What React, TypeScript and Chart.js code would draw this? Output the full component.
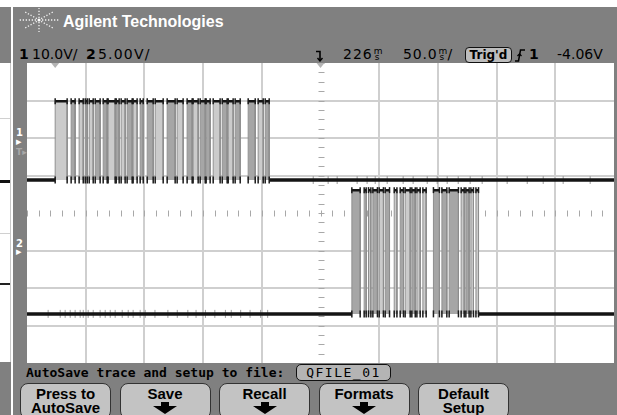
import React, { useEffect, useRef } from "react";
import { Chart, registerables } from "chart.js";
Chart.register(...registerables);

// ---- time base (ms) ----
const timePerDiv = 50;
const delayMs = 226;
const xMin = delayMs - 5 * timePerDiv;
const xMax = delayMs + 5 * timePerDiv;
const xGridTimes = [-24, 26, 76, 126, 176, 226, 276, 326, 376, 426, 476];

// ---- signal levels (screen divisions from centre) ----
const ch1Low = 0.88;
const ch1High = 2.98;
const ch2Low = -2.69;
const ch2High = 0.61;

// ---- channel 1 burst (ms) ----
const ch1Start = [0, 13.6, 20.4, 25.6, 29.0, 34.1, 40.9, 45.1, 52.0, 56.2, 61.3, 66.4, 72.4, 78.4, 85.2, 95.4, 103.9, 112.4, 117.5, 123.5, 128.6, 134.6, 142.3, 147.4, 153.3, 164.4, 172.9, 178.9];
const ch1End = [10.2, 17.0, 23.9, 27.3, 32.4, 38.3, 44.3, 51.1, 54.5, 59.6, 65.6, 69.8, 75.0, 83.5, 92.0, 102.2, 109.0, 116.7, 121.8, 127.8, 132.0, 140.5, 146.5, 151.6, 157.6, 170.4, 177.2, 182.3];
const ch1Shade = ["l", "m", "l", "m", "l", "m", "m", "l", "m", "l", "m", "l", "m", "m", "l", "m", "l", "m", "l", "m", "m", "l", "m", "l", "m", "m", "l", "m"];

// ---- channel 2 burst (ms) ----
const ch2Start = [252.7, 263.2, 266.9, 270.6, 276.0, 281.1, 288.8, 293.9, 298.1, 303.8, 308.1, 313.2, 322.2, 329.4, 335.6, 345.8, 349.8, 354.1, 358.4];
const ch2End = [259.8, 264.9, 268.9, 274.5, 279.6, 284.8, 291.1, 296.7, 302.4, 306.7, 310.9, 316.0, 327.3, 333.6, 343.5, 348.4, 352.6, 356.3, 360.6];
const ch2Shade = ["m", "l", "l", "m", "l", "m", "l", "m", "l", "m", "l", "l", "m", "m", "m", "l", "m", "l", "l"];

// ---- crosstalk specks (ms) ----
const ch1Glitch = [219.8, 232.5, 240.2, 257.2, 265.7, 272.6, 282.8, 296.4, 304.9, 316.9, 325.4, 333.9, 343.3, 353.5, 363.7, 385.0, 402.1, 415.7, 432.7, 455.7];
const ch2Glitch = [-6.0, 4.3, 8.5, 12.8, 17.0, 21.3, 23.9, 28.1, 32.4, 38.3, 42.6, 46.9, 51.1, 57.1, 62.2, 66.4, 72.4, 76.7, 85.0, 96.0, 104.0, 113.0, 120.0, 128.0, 136.0, 145.0, 150.0, 158.0, 166.0, 175.0, 181.0];

// ---- header / softkey texts ----
const ch1Scale = "10.0V/";
const ch2Scale = "5.00V/";
const delayText = "226";
const timeText = "50.0";
const trigLevel = "-4.06V";
const fileName = "QFILE_01";
const softkeys = [
  { lines: ["Press to", "AutoSave"], arrow: false },
  { lines: ["Save"], arrow: true },
  { lines: ["Recall"], arrow: true },
  { lines: ["Formats"], arrow: true },
  { lines: ["Default", "Setup"], arrow: false },
];

const GRAY = "#808080";

function bandPoints(starts: number[], ends: number[], shades: string[], want: string, low: number, high: number) {
  const pts: { x: number; y: number }[] = [];
  starts.forEach((s, i) => {
    if ((shades[i] || "m") !== want) return;
    const e = ends[i];
    pts.push({ x: s, y: low }, { x: s, y: high }, { x: e, y: high }, { x: e, y: low });
  });
  return pts;
}
function topPoints(starts: number[], ends: number[], high: number) {
  const pts: { x: number; y: number }[] = [];
  starts.forEach((s, i) => {
    pts.push({ x: s, y: high }, { x: ends[i], y: high }, { x: ends[i], y: NaN });
  });
  return pts;
}
function edgePoints(starts: number[], ends: number[], level: number) {
  const pts: { x: number; y: number }[] = [];
  starts.forEach((s, i) => pts.push({ x: s, y: level }, { x: ends[i], y: level }));
  return pts;
}
function baseline(starts: number[], ends: number[], low: number) {
  return [
    { x: xMin, y: low },
    { x: starts[0], y: low },
    { x: starts[0], y: NaN },
    { x: ends[ends.length - 1], y: low },
    { x: xMax, y: low },
  ];
}

const vertEdge = (ctx: any) => (ctx.p0.parsed.x === ctx.p1.parsed.x ? "#8e8e8e" : "rgba(0,0,0,0)");

function bandDataset(data: any[], color: string, low: number) {
  return {
    data,
    backgroundColor: color,
    borderWidth: 1,
    borderColor: "rgba(0,0,0,0)",
    segment: { borderColor: vertEdge },
    fill: { value: low },
    pointRadius: 0,
    order: 6,
  };
}
function tickDataset(data: any[], color: string, radius: number, width: number, order: number) {
  return {
    data,
    showLine: false,
    pointStyle: "line",
    rotation: 90,
    pointRadius: radius,
    borderColor: color,
    backgroundColor: color,
    pointBorderWidth: width,
    borderWidth: width,
    order,
  };
}
function lineDataset(data: any[], color: string, width: number, order: number) {
  return { data, borderColor: color, borderWidth: width, pointRadius: 0, fill: false, spanGaps: false, order };
}

const graticulePlugin = {
  id: "graticule",
  beforeDatasetsDraw(chart: any) {
    const { ctx, scales } = chart;
    const xs = scales.x;
    const ys = scales.y;
    ctx.save();
    ctx.strokeStyle = "#a8a8a8";
    ctx.lineWidth = 1;
    const yc = Math.round(ys.getPixelForValue(0)) + 0.5;
    const xc = Math.round(xs.getPixelForValue(delayMs)) + 0.5;
    ctx.beginPath();
    for (let k = 0; k <= 50; k++) {
      const xp = Math.round(xs.getPixelForValue(xMin + (k * timePerDiv) / 5)) + 0.5;
      ctx.moveTo(xp, yc - 3);
      ctx.lineTo(xp, yc + 3);
    }
    for (let k = 0; k <= 32; k++) {
      const yp = Math.round(ys.getPixelForValue(-4 + k / 4)) + 0.5;
      ctx.moveTo(xc - 3, yp);
      ctx.lineTo(xc + 3, yp);
    }
    ctx.stroke();
    // trigger / delay markers at the top edge
    const top = chart.chartArea.top;
    ctx.fillStyle = "#b4b4b4";
    [0, delayMs].forEach((t) => {
      const xp = xs.getPixelForValue(t);
      ctx.beginPath();
      ctx.moveTo(xp - 4, top);
      ctx.lineTo(xp + 4, top);
      ctx.lineTo(xp, top + 5);
      ctx.closePath();
      ctx.fill();
    });
    ctx.restore();
  },
};

function Arrow() {
  return (
    <svg width="24" height="12" viewBox="0 0 24 12" style={{ display: "block", margin: "1px auto 0" }}>
      <polygon points="8,0 16,0 16,4 24,4 12,12 0,4 8,4" fill="#000" />
    </svg>
  );
}

function StackedUnit() {
  return (
    <span style={{ display: "inline-block", position: "relative", width: 9, height: 14, verticalAlign: "-2px", marginLeft: 1, letterSpacing: 0 }}>
      <span style={{ position: "absolute", left: 0, top: 0, fontSize: 9, lineHeight: "8px" }}>m</span>
      <span style={{ position: "absolute", left: 1, top: 6, fontSize: 9, lineHeight: "8px" }}>s</span>
    </span>
  );
}

export default function App() {
  const ref = useRef<HTMLCanvasElement>(null);
  useEffect(() => {
    const chart = new Chart(ref.current as HTMLCanvasElement, {
      type: "line",
      data: {
        datasets: [
          bandDataset(bandPoints(ch1Start, ch1End, ch1Shade, "l", ch1Low, ch1High), "#cbcbcb", ch1Low),
          bandDataset(bandPoints(ch1Start, ch1End, ch1Shade, "m", ch1Low, ch1High), "#a6a6a6", ch1Low),
          bandDataset(bandPoints(ch2Start, ch2End, ch2Shade, "l", ch2Low, ch2High), "#cbcbcb", ch2Low),
          bandDataset(bandPoints(ch2Start, ch2End, ch2Shade, "m", ch2Low, ch2High), "#a6a6a6", ch2Low),
          tickDataset(ch1Glitch.map((x) => ({ x, y: ch1Low })), "#9c9c9c", 4, 1, 5),
          tickDataset(ch2Glitch.map((x) => ({ x, y: ch2Low })), "#9c9c9c", 4, 1, 5),
          lineDataset(baseline(ch1Start, ch1End, ch1Low), "#141414", 3.5, 3),
          lineDataset(baseline(ch2Start, ch2End, ch2Low), "#141414", 3.5, 3),
          lineDataset(topPoints(ch1Start, ch1End, ch1High), "#141414", 2.5, 2),
          lineDataset(topPoints(ch2Start, ch2End, ch2High), "#141414", 2.5, 2),
          tickDataset(edgePoints(ch1Start, ch1End, ch1High), "#1a1a1a", 3, 1.5, 1),
          tickDataset(edgePoints(ch1Start, ch1End, ch1Low), "#1a1a1a", 3.5, 1.5, 1),
          tickDataset(edgePoints(ch2Start, ch2End, ch2High), "#1a1a1a", 3, 1.5, 1),
          tickDataset(edgePoints(ch2Start, ch2End, ch2Low), "#1a1a1a", 3.5, 1.5, 1),
        ] as any,
      },
      options: {
        animation: false,
        responsive: false,
        events: [],
        layout: { padding: 0, autoPadding: false },
        plugins: { legend: { display: false }, tooltip: { enabled: false } },
        scales: {
          x: {
            type: "linear",
            min: xMin,
            max: xMax,
            afterBuildTicks: (s: any) => {
              s.ticks = xGridTimes.map((v) => ({ value: v }));
            },
            ticks: { display: false },
            border: { display: false },
            grid: {
              drawTicks: false,
              lineWidth: 2,
              color: (c: any) => (c.index === 0 || c.index === 5 || c.index === 10 ? "rgba(0,0,0,0)" : "#cfcfcf"),
            },
          },
          y: {
            type: "linear",
            min: -4,
            max: 4,
            ticks: { display: false, stepSize: 1 },
            border: { display: false },
            grid: {
              drawTicks: false,
              lineWidth: 2,
              color: (c: any) => (c.index === 0 || c.index === 4 || c.index === 8 ? "rgba(0,0,0,0)" : "#cfcfcf"),
            },
          },
        },
      } as any,
      plugins: [graticulePlugin],
    });
    return () => chart.destroy();
  }, []);

  const abs = (l: number, t: number, extra: any = {}) => ({ position: "absolute" as const, left: l, top: t, ...extra });
  const sans = "'DejaVu Sans', sans-serif";
  const arial = "'Liberation Sans', Arial, sans-serif";
  const mono = "'DejaVu Sans Mono', monospace";

  const rays = [0, 45, 90, 135, 180, 225, 270, 315];

  return (
    <div style={{ position: "fixed", left: 0, top: 0, width: 617, height: 415, overflow: "hidden", background: "#fff" }}>
      {/* left sliver of a neighbouring screen */}
      <div style={abs(0, 7, { width: 11, height: 56, background: GRAY })} />
      <div style={abs(0, 63, { width: 10, height: 299, background: "#fff", borderRight: "1px solid #c8c8c8" })} />
      <div style={abs(0, 118, { width: 10, height: 1, background: "#d0d0d0" })} />
      <div style={abs(0, 233, { width: 10, height: 1, background: "#d0d0d0" })} />
      <div style={abs(0, 180, { width: 10, height: 3, background: "#111" })} />
      <div style={abs(0, 283, { width: 10, height: 2, background: "#222" })} />
      <div style={abs(0, 362, { width: 11, height: 53, background: GRAY })} />

      {/* main instrument panel */}
      <div style={abs(13, 7, { width: 604, height: 408, background: GRAY })} />

      {/* logo */}
      <svg style={abs(14, 7)} width="50" height="28" viewBox="0 0 50 28">
        {rays.map((a) => {
          const r = (a * Math.PI) / 180;
          const rx = 21, ry = 12;
          return (
            <line key={a} x1={25 + Math.cos(r) * 3} y1={13 + Math.sin(r) * 2} x2={25 + Math.cos(r) * rx} y2={13 + Math.sin(r) * ry}
              stroke="#fff" strokeWidth="1.3" strokeDasharray="1.3 1.7" opacity="0.9" />
          );
        })}
        <circle cx="25" cy="13" r="1.5" fill="#fff" />
      </svg>
      <div style={abs(63, 13, { font: `bold 16px ${arial}`, color: "#fff", whiteSpace: "nowrap" })}>Agilent Technologies</div>

      {/* status line */}
      <div style={abs(19, 46, { font: `bold 14px ${sans}`, color: "#000", lineHeight: "16px" })}>1</div>
      <div style={abs(32, 46, { font: `14px ${sans}`, color: "#000", lineHeight: "16px", whiteSpace: "nowrap" })}>{ch1Scale}</div>
      <div style={abs(86, 46, { font: `bold 14px ${sans}`, color: "#000", lineHeight: "16px" })}>2</div>
      <div style={abs(98, 46, { font: `14px ${sans}`, color: "#000", lineHeight: "16px", whiteSpace: "nowrap", letterSpacing: 1.2 })}>{ch2Scale}</div>

      <svg style={abs(315, 50)} width="10" height="12" viewBox="0 0 10 12">
        <polyline points="1,1.5 5,1.5 5,11" fill="none" stroke="#000" strokeWidth="1.6" />
        <polyline points="2.5,8 5,11 7.5,8" fill="none" stroke="#000" strokeWidth="1.4" />
      </svg>
      <div style={abs(343, 46, { font: `14px ${sans}`, color: "#000", lineHeight: "16px", whiteSpace: "nowrap", letterSpacing: 1 })}>
        {delayText}<StackedUnit />
      </div>
      <div style={abs(403, 46, { font: `14px ${sans}`, color: "#000", lineHeight: "16px", whiteSpace: "nowrap", letterSpacing: 0.8 })}>
        {timeText}<StackedUnit />/
      </div>
      <div style={abs(465, 47, { width: 45, height: 14, border: "1.5px solid #111", borderRadius: 4, background: "#bdbdbd", font: `bold 12px ${sans}`, color: "#000", lineHeight: "14px", textAlign: "center" })}>Trig'd</div>
      <svg style={abs(515, 49)} width="10" height="13" viewBox="0 0 10 13">
        <polyline points="0,12 3.5,12 5.5,1 10,1" fill="none" stroke="#000" strokeWidth="1.5" />
        <polyline points="2.5,7 4.5,5 6.5,7" fill="none" stroke="#000" strokeWidth="1.3" />
      </svg>
      <div style={abs(529, 46, { font: `bold 14px ${sans}`, color: "#000", lineHeight: "16px" })}>1</div>
      <div style={abs(557, 46, { font: `14px ${sans}`, color: "#000", lineHeight: "16px", whiteSpace: "nowrap" })}>{trigLevel}</div>

      {/* channel ground markers */}
      <div style={abs(16, 128, { font: `bold 10px ${sans}`, color: "#fff", lineHeight: "10px" })}>1</div>
      <div style={abs(16, 136, { font: `bold 11px ${sans}`, color: "#fff", lineHeight: "11px" })}>▸</div>
      <div style={abs(16, 148, { font: `bold 9px ${sans}`, color: "#a8a8a8", lineHeight: "9px" })}>T▸</div>
      <div style={abs(16, 239, { font: `bold 10px ${sans}`, color: "#fff", lineHeight: "10px" })}>2</div>
      <div style={abs(16, 246, { font: `bold 11px ${sans}`, color: "#fff", lineHeight: "11px" })}>▸</div>

      {/* graticule + traces */}
      <canvas ref={ref} width={587} height={300} style={abs(27, 63, { width: 587, height: 300, background: "#fff" })} />

      {/* message line */}
      <div style={abs(26, 365, { font: `bold 13px ${mono}`, color: "#000", lineHeight: "15px", whiteSpace: "nowrap" })}>AutoSave trace and setup to file:</div>
      <div style={abs(296, 364, { width: 93, height: 15, border: "1.5px solid #111", borderRadius: 5, background: "#b4b4b4", font: `13px ${mono}`, color: "#000", lineHeight: "15px", textAlign: "center", letterSpacing: 1.5 })}>{fileName}</div>

      {/* softkeys */}
      {softkeys.map((k, i) => (
        <div key={i} style={abs(20 + i * 99.5, 383, { width: 91, height: 36, border: "1.5px solid #333", borderRadius: 8, background: "#c3c3c3", boxSizing: "border-box", textAlign: "center", font: `bold 15px ${arial}`, color: "#000", lineHeight: "14px", paddingTop: 3 })}>
          {k.lines.map((l, j) => (
            <div key={j}>{l}</div>
          ))}
          {k.arrow ? <Arrow /> : null}
        </div>
      ))}
    </div>
  );
}
